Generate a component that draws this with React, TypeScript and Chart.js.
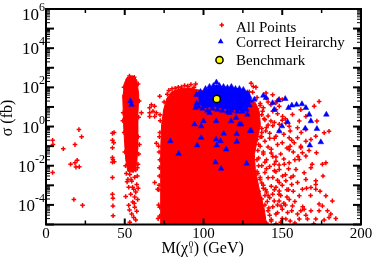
import React, { useEffect, useRef } from 'react';
import { Chart, registerables } from 'chart.js';

Chart.register(...registerables);

// ---------- axis / tick data ----------
const xTickValues = [0, 25, 50, 75, 100, 125, 150, 175, 200];
const xTickLabels = [0, 50, 100, 150, 200];
const yDecadeExponents = [-5, -4, -3, -2, -1, 0, 1, 2, 3, 4, 5, 6];
const yLabelExponents = [-4, -2, 0, 2, 4, 6];
const legendLabels = ['All Points', 'Correct Heirarchy', 'Benchmark'];
const xTitle = ['M(\u03c7', '0', '1', ') (GeV)'];
const yTitle = '\u03c3 (fb)';

// ---------- red "All Points" ----------
// outline of the fully saturated red cloud (x GeV, sigma fb)
const redCoreOutline: [number, number][] = [
  [72.8, 5e-6], [72.8, 0.068], [73.4, 1.26], [74.7, 7.3], [76.6, 26], [79.7, 60], [84.8, 85],
  [91.1, 95], [96.2, 76], [110.1, 43], [126, 30], [132.9, 17], [135.4, 5.8], [136.1, 1.26],
  [134.2, 0.22], [132.3, 0.038], [132.9, 6.5e-3], [135.4, 6.3e-4], [138.6, 6e-5], [140.5, 5e-6],
];
// outline of the saturated strip near 55 GeV
const redStripOutline: [number, number][] = [
  [49.4, 137], [51.3, 310], [55.1, 390], [57.6, 245], [58.9, 42], [58.2, 2.3], [58.2, 0.068],
  [57.6, 0.012], [55.7, 4.6e-3], [51.9, 5.2e-3], [50.6, 0.021], [49.4, 0.7], [48.7, 42],
];
const farLeftPoints: [number, number][] = [
  [4.2, 0.2], [4.4, 0.12], [4.2, 4.5e-3], [11, 0.074], [20.9, 0.7], [22.6, 0.3], [18.4, 0.12],
  [15.6, 0.012], [18.4, 0.014], [19.8, 0.019], [19, 8.5e-3], [21.1, 8.9e-3], [17.7, 1.9e-4],
  [23.2, 9.5e-5], [42.2, 0.45], [43.2, 0.5], [42.2, 0.2], [43, 0.15], [42.2, 0.083],
  [42.2, 0.026], [42.5, 0.021], [43.3, 0.016], [42.2, 0.015], [42.2, 2.5e-3], [42.2, 3.5e-4],
  [42.5, 2.2e-4], [42.5, 8.9e-5], [42.6, 2.8e-5],
];
const stripPoints: [number, number][] = [
  [49.5, 100], [50, 30], [49, 5], [49.6, 0.5], [50, 0.05], [50.5, 0.01], [51, 4e-3],
  [58.5, 150], [59.2, 20], [58.8, 3], [58.6, 0.3], [58.9, 0.04], [58, 8e-3], [53, 380],
  [56, 330], [52, 250], [48.8, 2], [59.3, 0.12], [53.2, 3.6e-3], [56.3, 2.6e-3], [54.4, 1.6e-3],
  [57.6, 1.1e-3], [52.5, 7.9e-4], [55.7, 6.3e-4], [57, 4.5e-4], [53.8, 3.5e-4], [50.6, 2.7e-4],
  [56.3, 2.5e-4], [58.2, 1.9e-4], [55.1, 1.4e-4], [52.5, 9.5e-5], [56.3, 7.6e-5], [57.6, 4.8e-5],
  [54.4, 3.4e-5], [55.7, 2.3e-5], [57, 1.7e-5], [53.2, 1.3e-5], [58.4, 0.012], [54, 2e-3],
  [57, 6e-3], [52, 2e-3], [55, 8e-4], [58, 3e-3], [56, 1.2e-4], [53, 5.5e-5], [58.5, 7e-4],
  [51.5, 1.5e-3],
];
const mainEdgePoints: [number, number][] = [
  [60.6, 5], [65.8, 9], [65.8, 5], [66.9, 13], [68.9, 11], [67.9, 6], [70.1, 5], [70.1, 0.14],
  [69, 1.4e-3], [70.9, 6.3e-4], [72.2, 7.6e-5], [72.2, 2.7e-5], [72.2, 35], [65.8, 3.3], [69, 3.3],
  [71.5, 1e-4], [72, 3e-3], [71.8, 0.05], [72.3, 0.5], [71.2, 2e-5], [72.3, 0.02], [71.6, 6e-4],
  [72, 0.3], [72.4, 4], [71.8, 1e-3], [72, 8e-3], [71.5, 0.1], [72.5, 2], [78, 70], [82, 90],
  [86, 105], [90, 115], [94, 100], [75, 18], [77, 45], [88, 125], [92, 140], [95, 150],
  [130.2, 160], [131.6, 110], [133.3, 100], [80, 85], [84, 100],
];
const rightEdgePoints: [number, number][] = [
  [136, 12], [137.5, 6], [138.5, 2.5], [137, 0.8], [136, 0.3], [135, 0.12], [134.5, 0.06],
  [134, 0.02], [135, 0.01], [134.5, 4e-3], [136, 2.5e-3], [137, 1.3e-3], [138, 7e-4], [139, 3e-4],
  [140.5, 1.5e-4], [141.5, 7e-5], [142, 3e-5], [143, 1.5e-5], [139.5, 6e-4], [141, 3e-4],
  [138, 0.04], [139, 0.015], [140, 0.007], [137, 0.3], [139.5, 0.6], [141, 1.2], [142, 0.25],
  [143, 0.07], [144, 0.03], [145, 0.012], [146, 0.005], [144, 2.5e-3], [146, 8e-4], [148, 3.5e-4],
  [147, 1e-4], [150, 2e-5], [152, 1e-4], [154, 6e-4], [157, 3e-3], [158, 0.02], [155, 0.1],
  [162, 0.5], [167, 0.06], [169, 0.012], [165, 2e-3], [168, 3e-4], [174, 5e-4],
];
const speckledPoints: [number, number][] = [
  [134, 30], [140, 28], [136, 15], [141, 18], [146, 16], [134, 8], [138, 9], [144, 6], [137, 4],
  [141, 3.5], [147, 4.5], [152, 2.5], [133, 2], [139, 2.2], [145, 1.6], [150, 2.1], [135, 1],
  [140, 0.9], [144, 1.1], [155, 0.6], [137, 0.5], [142, 0.45], [148, 0.6], [151, 0.4], [134, 0.22],
  [139, 0.18], [145, 0.25], [150, 0.15], [156, 0.2], [136, 0.1], [141, 0.09], [147, 0.12],
  [153, 0.08], [138, 0.05], [143, 0.045], [149, 0.04], [157, 0.05], [135, 0.025], [140, 0.02],
  [146, 0.028], [151, 0.022], [160, 0.03], [137, 0.01], [142, 0.009], [148, 0.011], [154, 0.007],
  [134, 5e-3], [139, 4.5e-3], [145, 5.5e-3], [152, 3.5e-3], [136, 2e-3], [141, 2.4e-3],
  [147, 1.8e-3], [156, 1.1e-3], [138, 1e-3], [143, 9e-4], [150, 1e-3], [153, 6e-4], [135, 5e-4],
  [140, 4.5e-4], [145, 6e-4], [149, 3e-4], [157, 5e-4], [137, 2e-4], [142, 2.3e-4], [148, 1.6e-4],
  [153, 2.5e-4], [158, 1.5e-4], [139, 1e-4], [144, 8e-5], [151, 1.2e-4], [156, 5e-5], [136, 4e-5],
  [141, 5e-5], [147, 4e-5], [150, 6e-5], [163, 8e-5], [138, 2e-5], [143, 1.8e-5], [149, 1.3e-5],
  [155, 1.5e-5], [165, 3e-5], [140, 1.2e-5], [146, 1.1e-5], [158, 1.2e-5], [170, 1.1e-5],
];
const sparseRightPoints: [number, number][] = [
  [157.6, 0.15], [154.4, 0.068], [161.8, 0.083], [165, 0.031], [162.8, 0.046], [177.7, 0.014],
  [163.9, 4.4e-3], [158.7, 6.5e-3], [154.4, 0.014], [150.2, 3e-3], [148.1, 1.4e-3], [159.7, 1.4e-3],
  [162.8, 6.3e-4], [168.2, 7.7e-4], [171.3, 6.3e-4], [181.8, 1.6e-4], [173.4, 1.1e-4], [168.2, 5e-5],
  [163.9, 6e-5], [156.5, 8.9e-5], [153.4, 4.1e-5], [173.4, 5e-5], [178.7, 5e-5], [166, 1.9e-5],
  [171.3, 1.9e-5], [176.6, 1.7e-5], [184, 2e-5], [179.7, 2.3e-5], [152.3, 1.9e-5], [160.8, 1.9e-5],
  [154.4, 1.9e-4], [143.9, 3.5e-4], [148.1, 5.2e-4], [144.9, 1.6e-4], [149.2, 8.9e-5], [146, 3.4e-5],
  [159.7, 3.4e-5], [152.3, 1.7e-3], [155.5, 2.5e-3], [171.3, 1.7e-3], [148.1, 6.5e-3], [151.3, 0.012],
  [146, 0.017], [160.8, 0.021], [168.2, 8e-3], [168.2, 0.22], [171.7, 0.046], [175.5, 0.012],
  [175.9, 3e-3], [171.3, 1.1e-3], [177.7, 2.9e-4], [180.8, 3.4e-5], [175.5, 8.9e-5], [165.4, 7.1e-4],
  [160.8, 2.9e-4], [161.8, 5e-5], [173.4, 19], [170.3, 11], [172, 1.9], [179.7, 0.58], [176.6, 0.48],
  [165, 3.3], [161.8, 7.3], [160.8, 1.9], [156.5, 4.1], [154.4, 1.04], [159.7, 0.86], [165, 0.71],
  [150.2, 3.3], [146, 7.3], [142.8, 13], [139.7, 52], [143.9, 42], [131.2, 56], [129.1, 60],
  [148.1, 11], [152.3, 1.5], [148.1, 1.3], [142.8, 1.9], [146, 0.32], [154.4, 0.27], [159.7, 0.27],
  [165, 0.18], [171.3, 0.32], [161.8, 0.1], [148.1, 26], [150, 24], [146.5, 20],
];

// ---------- blue "Correct Heirarchy" ----------
const blueCoreOutline: [number, number][] = [
  [96.8, 48], [101.3, 76], [106.3, 108], [108.2, 137], [111.4, 108], [117.7, 96], [125.3, 76],
  [128.5, 48], [129.1, 24], [127.8, 9.3], [124.7, 6.5], [119.6, 7.3], [113.3, 8.2], [107, 10.4],
  [100.6, 9.3], [96.8, 15],
];
const blueCorePoints: [number, number][] = [
  [95.6, 42], [95.6, 15], [98.1, 60], [101.3, 85], [103.8, 108], [106.3, 120], [108.2, 180],
  [110.1, 120], [112.7, 108], [115.2, 96], [117.7, 108], [120.3, 85], [122.8, 85], [125.3, 76],
  [127.8, 52], [129.1, 33], [129.7, 21], [129.1, 12], [127.2, 7.3], [124.7, 5.8], [121.5, 5.8],
  [117.7, 6.5], [115.2, 5.8], [112, 6.5], [108.9, 7.3], [105.7, 8.2], [102.5, 6.5], [99.4, 8.2],
  [96.8, 10.4], [126, 24], [124.7, 13], [127.8, 4.1],
];
const blueScatterPoints: [number, number][] = [
  [53.6, 20], [54.2, 13], [132.3, 24], [138, 38], [139.7, 29], [143.9, 16], [147.7, 22], [151.9, 26],
  [154, 9], [156.1, 12], [159.1, 13], [162.5, 14], [165, 9], [167.1, 4.1], [168.2, 1.9], [178, 4.1],
  [153.4, 1.7], [149.8, 1.04], [148.1, 0.58], [130.2, 0.6], [123.9, 1.3], [164.6, 0.8], [172, 0.77],
  [167.5, 0.11], [174.5, 0.16], [144.9, 7.3], [127.4, 0.013], [78.9, 0.18], [84.2, 0.041], [96, 0.11],
  [107.6, 0.015], [111.2, 7.1e-3], [108, 0.22], [110.8, 0.18], [108.4, 0.11], [114.4, 0.068],
  [121.1, 0.17], [94.9, 9], [100, 1.9], [94.3, 1.3], [98.5, 1.04], [103.8, 5], [108, 1.9], [116.5, 5],
  [117.5, 1.9], [120.7, 2.8], [122.8, 1.3], [112.8, 0.44], [98.5, 0.27], [129.6, 0.6], [121.1, 0.42],
];

// ---------- benchmark ----------
const benchmarkPoints: [number, number][] = [[108.4, 25.7]];

const RED = '#ff0000';
const BLUE = '#0000ff';
const YELLOW = '#ffff00';
const SERIF = '"Liberation Serif", "DejaVu Serif", serif';

const toXY = (arr: [number, number][]) => arr.map(([x, y]) => ({ x, y }));

const decorPlugin = {
  id: 'decor',
  afterDatasetsDraw(chart: any) {
    const { ctx, chartArea: a, scales } = chart;
    const xs = scales.x;
    const ys = scales.y;
    const line = (x1: number, y1: number, x2: number, y2: number) => {
      ctx.beginPath();
      ctx.moveTo(x1, y1);
      ctx.lineTo(x2, y2);
      ctx.stroke();
    };
    ctx.save();
    ctx.strokeStyle = '#000';
    ctx.fillStyle = '#000';

    // x ticks (bottom + top, inward)
    for (const v of xTickValues) {
      const px = xs.getPixelForValue(v);
      const major = xTickLabels.includes(v);
      ctx.lineWidth = major ? 2 : 1.5;
      const len = major ? 6 : 4;
      line(px, a.bottom, px, a.bottom - len);
      line(px, a.top, px, a.top + len);
    }
    // y ticks (left + right, inward)
    for (const e of yDecadeExponents) {
      for (let m = 1; m < 10; m++) {
        const v = m * Math.pow(10, e);
        if (v > 1.0001e6) break;
        const py = ys.getPixelForValue(v);
        const major = m === 1;
        ctx.lineWidth = major ? 2 : 1;
        const len = major ? 8 : 4;
        line(a.left, py, a.left + len, py);
        line(a.right, py, a.right - len, py);
      }
    }
    // frame
    ctx.lineWidth = 2;
    ctx.strokeRect(a.left, a.top, a.right - a.left, a.bottom - a.top);

    // x tick labels
    ctx.font = `15px ${SERIF}`;
    ctx.textAlign = 'center';
    ctx.textBaseline = 'alphabetic';
    for (const v of xTickLabels) {
      ctx.fillText(String(v), xs.getPixelForValue(v), a.bottom + 13);
    }
    // y tick labels 10^n
    ctx.textAlign = 'left';
    for (const e of yLabelExponents) {
      const py = ys.getPixelForValue(Math.pow(10, e));
      const base = Math.max(py + 6, 20);
      ctx.font = `17px ${SERIF}`;
      const w1 = ctx.measureText('10').width;
      ctx.font = `12px ${SERIF}`;
      const expStr = String(e);
      const w2 = ctx.measureText(expStr).width;
      const x0 = a.left - 1 - (w1 + w2);
      ctx.font = `17px ${SERIF}`;
      ctx.fillText('10', x0, base);
      ctx.font = `12px ${SERIF}`;
      ctx.fillText(expStr, x0 + w1, base - 9);
    }

    // x title
    ctx.font = `16px ${SERIF}`;
    let tx = 161.5;
    const tb = a.bottom + 28;
    ctx.fillText(xTitle[0], tx, tb);
    tx += ctx.measureText(xTitle[0]).width + 0.5;
    ctx.font = `9px ${SERIF}`;
    ctx.fillText(xTitle[1], tx, tb - 6);
    ctx.fillText(xTitle[2], tx, tb);
    tx += ctx.measureText(xTitle[1]).width + 0.5;
    ctx.font = `16px ${SERIF}`;
    ctx.fillText(xTitle[3], tx, tb);

    // y title
    ctx.save();
    ctx.translate(11.5, 118);
    ctx.rotate(-Math.PI / 2);
    ctx.textAlign = 'center';
    ctx.font = `16px ${SERIF}`;
    ctx.fillText(yTitle, 0, 0);
    ctx.restore();

    // legend
    ctx.font = `15px ${SERIF}`;
    ctx.textAlign = 'left';
    const lx = 236;
    ctx.strokeStyle = RED;
    ctx.lineWidth = 1.5;
    line(219.5, 25, 224, 25);
    line(221.75, 22.75, 221.75, 27.25);
    ctx.fillStyle = '#000';
    ctx.fillText(legendLabels[0], lx, 31.5);
    ctx.fillStyle = BLUE;
    ctx.beginPath();
    ctx.moveTo(220.7, 38.3);
    ctx.lineTo(223.5, 43.2);
    ctx.lineTo(217.9, 43.2);
    ctx.closePath();
    ctx.fill();
    ctx.fillStyle = '#000';
    ctx.fillText(legendLabels[1], lx, 46.5);
    ctx.beginPath();
    ctx.arc(219.5, 60, 3.6, 0, Math.PI * 2);
    ctx.fillStyle = YELLOW;
    ctx.fill();
    ctx.lineWidth = 1.5;
    ctx.strokeStyle = '#000';
    ctx.stroke();
    ctx.fillStyle = '#000';
    ctx.fillText(legendLabels[2], lx, 65);

    ctx.restore();
  },
};

export default function App() {
  const ref = useRef<HTMLCanvasElement | null>(null);
  useEffect(() => {
    if (!ref.current) return;
    const areaDs = (data: [number, number][], color: string, order: number) => ({
      data: toXY(data),
      showLine: true,
      fill: 'shape',
      backgroundColor: color,
      borderColor: color,
      borderWidth: 1,
      pointRadius: 0,
      pointHitRadius: 0,
      tension: 0,
      clip: 0,
      order,
    });
    const ptDs = (data: [number, number][], style: string, r: number, color: string, order: number) => ({
      data: toXY(data),
      showLine: false,
      fill: false,
      pointStyle: style,
      pointRadius: r,
      pointBackgroundColor: color,
      pointBorderColor: color,
      pointBorderWidth: style === 'cross' ? 1.5 : 0.5,
      clip: 0,
      order,
    });
    const chart = new Chart(ref.current, {
      type: 'line',
      data: {
        datasets: [
          areaDs(redCoreOutline, RED, 20),
          areaDs(redStripOutline, RED, 19),
          ptDs([...farLeftPoints, ...stripPoints, ...mainEdgePoints, ...rightEdgePoints, ...speckledPoints, ...sparseRightPoints], 'cross', 2.3, RED, 18),
          areaDs(blueCoreOutline, BLUE, 10),
          ptDs([...blueCorePoints, ...blueScatterPoints], 'triangle', 3.3, BLUE, 9),
          {
            data: toXY(benchmarkPoints),
            showLine: false,
            fill: false,
            pointStyle: 'circle',
            pointRadius: 3.6,
            pointBackgroundColor: YELLOW,
            pointBorderColor: '#000',
            pointBorderWidth: 1.5,
            clip: 0,
            order: 1,
          },
        ] as any,
      },
      options: {
        animation: false,
        responsive: false,
        devicePixelRatio: 1,
        events: [],
        layout: { padding: { left: 46, top: 9, right: 13, bottom: 34.5 } },
        scales: {
          x: { type: 'linear', min: 0, max: 200, display: false },
          y: { type: 'logarithmic', min: 1e-5, max: 1e6, display: false },
        },
        plugins: { legend: { display: false }, tooltip: { enabled: false } },
      },
      plugins: [decorPlugin],
    });
    return () => chart.destroy();
  }, []);
  return (
    <div style={{ position: 'absolute', left: 0, top: 0, width: 374, height: 259, background: '#fff' }}>
      <canvas ref={ref} width={374} height={259} />
    </div>
  );
}
